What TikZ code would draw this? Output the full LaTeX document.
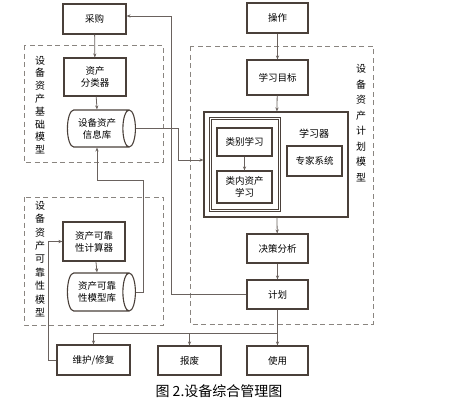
\documentclass[tikz,border=0pt]{standalone}
\usepackage{fontspec}
\setmainfont{Noto Sans CJK SC}
\usetikzlibrary{arrows.meta, positioning, calc, shapes.geometric}
\definecolor{boxline}{HTML}{4A403A}
\definecolor{wire}{HTML}{6A625E}
\definecolor{dashline}{HTML}{8A8580}

\begin{document}
\begin{tikzpicture}[x=1pt, y=-1pt,
  blk/.style={draw=boxline, line width=1.1pt, minimum width=#1, align=center,
              font=\fontsize{9.5}{12}\selectfont, inner sep=1pt},
  blk/.default=61pt,
  db/.style={draw=boxline, line width=1.1pt, shape=cylinder, aspect=0.55,
             minimum height=68pt, minimum width=37pt, align=center,
             font=\fontsize{9.5}{12}\selectfont, inner sep=1pt},
  zone/.style={draw=dashline, line width=0.9pt, dash pattern=on 5pt off 3.5pt},
  vtext/.style={align=center, font=\fontsize{10}{#1}\selectfont, inner sep=0pt},
  arr/.style={-{Stealth[length=4pt, width=3.2pt]}, wire, line width=0.8pt},
  ln/.style={wire, line width=0.8pt}
]
  \useasboundingbox (0,0) rectangle (471,407);

  % Model zones
  \draw[zone] (24,45) rectangle (163,162);
  \draw[zone] (24,197) rectangle (163,325);
  \draw[zone] (190,46) rectangle (373,324);
  \node[vtext=12.8pt] (basiclbl) at (40,105) {设\\备\\资\\产\\基\\础\\模\\型};
  \node[vtext=13.4pt] (rellbl)   at (40,259) {设\\备\\资\\产\\可\\靠\\性\\模\\型};
  \node[vtext=15.5pt] (planlbl)  at (361,123) {设\\备\\资\\产\\计\\划\\模\\型};

  % Left column
  \node[blk=63pt, minimum height=30pt] (caigou)   at (94.5,19)  {采购};
  \node[blk=62pt, minimum height=38pt] (fenlei)   at (95,77)    {资产\\分类器};
  \node[db] (xinxiku)                              at (97,128.5) {设备资产\\信息库};
  \node[blk=62pt, minimum height=39pt] (jisuan)   at (94,241.5) {资产可靠\\性计算器};
  \node[db, minimum width=38pt] (moxingku)         at (97,292)   {资产可靠\\性模型库};

  % Right column
  \node[blk, minimum height=30pt] (caozuo)  at (277.5,18)    {操作};
  \node[blk, minimum height=35pt] (mubiao)  at (277.5,77.5)  {学习目标};
  \node[draw=boxline, line width=1.1pt, minimum width=144pt, minimum height=105pt] (xuexiqi) at (276,164.5) {};
  \node[draw=boxline, line width=0.9pt, double, double distance=1.8pt,
        minimum width=69pt, minimum height=92pt] (inner) at (245,164.5) {};
  \node[blk=55pt, minimum height=28pt] (leibie)  at (244.5,142) {类别学习};
  \node[blk=55pt, minimum height=32pt] (leinei)  at (244.5,187) {类内资产\\学习};
  \node[font=\fontsize{10}{12}\selectfont] (xxqlbl) at (314,134) {学习器};
  \node[blk=55pt, minimum height=30pt] (zhuanjia) at (314.5,161) {专家系统};
  \node[blk, minimum height=29pt] (juece)   at (277.5,248.5) {决策分析};
  \node[blk, minimum height=29pt] (jihua)   at (277.5,294.5) {计划};

  % Bottom row
  \node[blk=73pt, minimum height=30pt] (weihu)  at (93.5,360)  {维护/修复};
  \node[blk=63pt, minimum height=29pt] (baofei) at (189.5,360.5) {报废};
  \node[blk, minimum height=29pt] (shiyong)     at (277.5,360.5) {使用};

  % Straight flows
  \draw[arr] (caigou) -- (fenlei);
  \draw[arr] (fenlei) -- (xinxiku.north);
  \draw[arr] (jisuan) -- (moxingku.north);
  \draw[arr] (caozuo) -- (mubiao);
  \draw[arr] (mubiao) -- (xuexiqi);
  \draw[arr] (leibie) -- (leinei);
  \draw[arr] (xuexiqi) -- (juece);
  \draw[arr] (juece) -- (jihua);
  \draw[arr] (jihua) -- (shiyong);

  % Bends
  \coordinate (infobend) at (178,160);
  \coordinate (planup)   at (171,16);
  \coordinate (relup)    at (143,180);
  \coordinate (split)    at (277.5,333);
  \coordinate (backleft) at (48,360);

  \draw[arr] (xinxiku.east) -| (infobend) -- (infobend -| xuexiqi.west);
  \draw[arr] (jihua.west) -| (planup) -- (planup -| caigou.east);
  \draw[arr] (moxingku.east) -| (relup) -| (xinxiku.south);
  \draw[arr] (split) -| (weihu.north);
  \draw[arr] (split -| baofei.north) -- (baofei.north);
  \draw[arr] (weihu.west) -- (backleft) |- (jisuan.west);

  % Caption
  \node[font=\fontsize{14}{16}\selectfont] (caption) at (219,391) {图 2.设备综合管理图};
\end{tikzpicture}
\end{document}
